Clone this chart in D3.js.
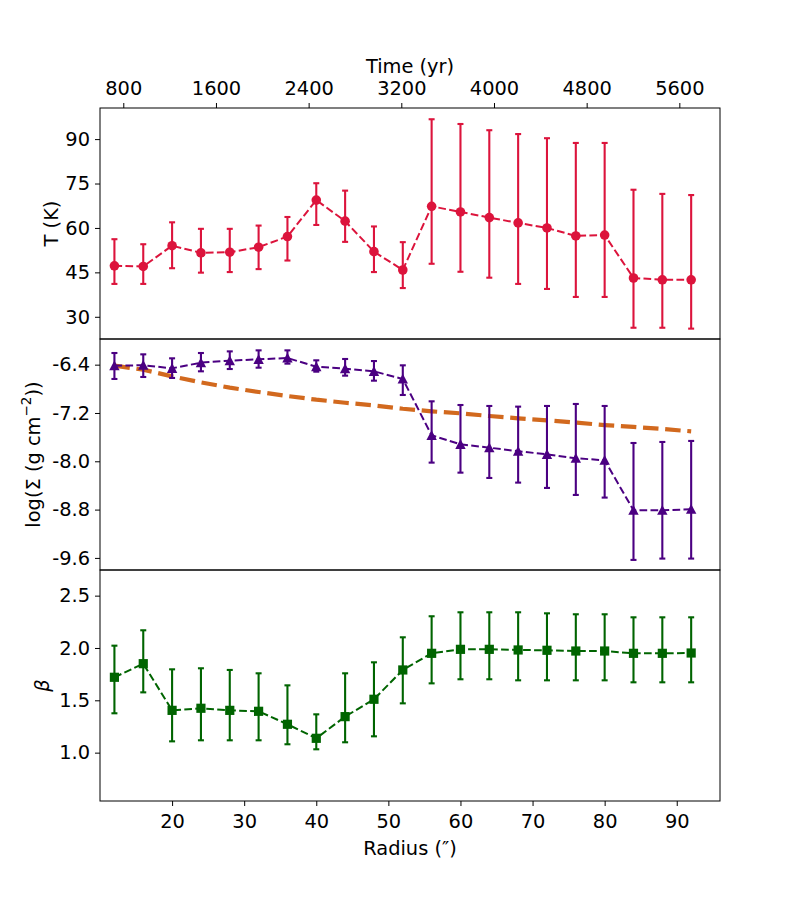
<!DOCTYPE html>
<html>
<head>
<meta charset="utf-8">
<script src="https://cdn.jsdelivr.net/npm/d3@7"></script>
<style>
  body { margin: 0; background: white; }
  text { font-family: "DejaVu Sans", sans-serif; }
</style>
</head>
<body>
<div id="chart"></div>
<script>
// radius of each ring (arcsec)
const radius = [12, 16, 20, 24, 28, 32, 36, 40, 44, 48, 52, 56, 60, 64, 68, 72, 76, 80, 84, 88, 92];

// temperature (K) with error bar ends
const temp   = [47.2, 47.0, 54.0, 51.6, 51.8, 53.5, 57.1, 69.4, 62.3, 52.0, 45.8, 67.3, 65.4, 63.5, 61.7, 60.0, 57.3, 57.6, 43.1, 42.5, 42.5];
const tempHi = [56.2, 54.5, 61.9, 59.7, 59.7, 60.8, 63.7, 75.1, 72.6, 60.5, 55.2, 96.7, 95.1, 93.0, 91.7, 90.3, 88.7, 88.7, 72.9, 71.5, 71.1];
const tempLo = [41.1, 41.1, 46.4, 44.9, 45.1, 46.1, 49.0, 61.0, 55.3, 45.1, 39.7, 47.9, 45.2, 43.2, 41.1, 39.4, 36.7, 36.7, 26.3, 26.3, 26.0];

// log surface density with error bar ends, plus the model curve
const sigma   = [-6.417, -6.41, -6.46, -6.367, -6.334, -6.312, -6.29, -6.433, -6.466, -6.51, -6.637, -7.57, -7.719, -7.774, -7.834, -7.884, -7.95, -7.983, -8.811, -8.811, -8.794];
const sigmaHi = [-6.207, -6.229, -6.295, -6.207, -6.18, -6.163, -6.163, -6.328, -6.306, -6.34, -6.411, -7.007, -7.068, -7.084, -7.095, -7.084, -7.051, -7.084, -7.697, -7.68, -7.663];
const sigmaLo = [-6.637, -6.604, -6.62, -6.51, -6.472, -6.45, -6.383, -6.516, -6.582, -6.665, -6.902, -8.022, -8.188, -8.276, -8.353, -8.441, -8.557, -8.601, -9.633, -9.611, -9.611];
const sigmaModel = [-6.417, -6.483, -6.594, -6.693, -6.78, -6.852, -6.919, -6.98, -7.03, -7.074, -7.13, -7.173, -7.206, -7.25, -7.289, -7.322, -7.36, -7.4, -7.43, -7.465, -7.504];

// dust emissivity index
const beta   = [1.72, 1.85, 1.404, 1.424, 1.404, 1.395, 1.271, 1.137, 1.344, 1.51, 1.79, 1.949, 1.987, 1.987, 1.981, 1.978, 1.971, 1.971, 1.949, 1.949, 1.952];
const betaHi = [2.022, 2.169, 1.796, 1.806, 1.79, 1.758, 1.643, 1.366, 1.758, 1.863, 2.102, 2.303, 2.341, 2.341, 2.341, 2.331, 2.322, 2.322, 2.293, 2.293, 2.293];
const betaLo = [1.376, 1.576, 1.108, 1.118, 1.118, 1.118, 1.08, 1.032, 1.099, 1.156, 1.471, 1.662, 1.701, 1.701, 1.691, 1.691, 1.691, 1.691, 1.672, 1.672, 1.672];

// tick labels
const radiusTicks = [20, 30, 40, 50, 60, 70, 80, 90];
const timeTicks = [800, 1600, 2400, 3200, 4000, 4800, 5600];
const tempTicks = [30, 45, 60, 75, 90];
const sigmaTicks = [-9.6, -8.8, -8.0, -7.2, -6.4];
const betaTicks = [1.0, 1.5, 2.0, 2.5];

const width = 800;
const height = 900;
const margin = { left: 100, right: 80 };
const fontSize = 19.4;
const tickLen = 5;

const svg = d3.select('#chart')
    .append('svg')
    .attr('width', width)
    .attr('height', height)
    .style('background', 'white');

const x = d3.scaleLinear()
    .domain([10, 96])
    .range([margin.left, width - margin.right]);

const xTime = d3.scaleLinear()
    .domain([599, 5951])
    .range([margin.left, width - margin.right]);

const panels = [
    { top: 108, bottom: 339, domain: [22.5, 100.5], ticks: tempTicks, fmt: d3.format('d'),
      val: temp, hi: tempHi, lo: tempLo, color: '#dc143c', marker: 'circle',
      label: ['T (K)'], labelX: 51 },
    { top: 339, bottom: 570, domain: [-9.8, -5.975], ticks: sigmaTicks, fmt: d => d.toFixed(1),
      val: sigma, hi: sigmaHi, lo: sigmaLo, color: '#4b0082', marker: 'triangle',
      label: ['log(Σ (g cm', '−2', '))'], labelX: 33, model: sigmaModel },
    { top: 570, bottom: 801, domain: [0.538, 2.745], ticks: betaTicks, fmt: d3.format('.1f'),
      val: beta, hi: betaHi, lo: betaLo, color: '#006400', marker: 'square',
      label: ['β'], labelX: 42, italic: true }
];

function marker(type) {
    if (type === 'circle') return d3.symbol(d3.symbolCircle, Math.PI * 4.8 * 4.8)();
    if (type === 'square') return 'M-4.6,-4.6H4.6V4.6H-4.6Z';
    return 'M0,-5.2L5.2,4.6H-5.2Z';
}

function styleAxis(sel) {
    sel.select('.domain').remove();
    sel.selectAll('text').attr('font-size', fontSize).attr('fill', 'black')
        .style('font-family', '"DejaVu Sans", sans-serif');
    sel.selectAll('line').attr('stroke', 'black');
}

panels.forEach(p => {
    const y = d3.scaleLinear().domain(p.domain).range([p.bottom, p.top]);
    const g = svg.append('g');

    // y axis ticks
    g.append('g').attr('transform', `translate(${margin.left},0)`)
        .call(d3.axisLeft(y).tickValues(p.ticks).tickFormat(p.fmt).tickSize(tickLen).tickPadding(5))
        .call(styleAxis);

    // model curve
    if (p.model) {
        g.append('path')
            .datum(p.model)
            .attr('fill', 'none')
            .attr('stroke', '#d2691e')
            .attr('stroke-width', 4.2)
            .attr('stroke-dasharray', '15.5,6.7')
            .attr('d', d3.line().x((d, i) => x(radius[i])).y(d => y(d)));
    }

    // error bars
    const eb = g.append('g').attr('stroke', p.color).attr('stroke-width', 2.1);
    eb.selectAll('line.bar').data(radius).join('line')
        .attr('x1', d => x(d)).attr('x2', d => x(d))
        .attr('y1', (d, i) => y(p.lo[i])).attr('y2', (d, i) => y(p.hi[i]));
    eb.selectAll('line.capHi').data(radius).join('line').attr('class', 'capHi')
        .attr('x1', d => x(d) - 3).attr('x2', d => x(d) + 3)
        .attr('y1', (d, i) => y(p.hi[i])).attr('y2', (d, i) => y(p.hi[i]));
    eb.selectAll('line.capLo').data(radius).join('line').attr('class', 'capLo')
        .attr('x1', d => x(d) - 3).attr('x2', d => x(d) + 3)
        .attr('y1', (d, i) => y(p.lo[i])).attr('y2', (d, i) => y(p.lo[i]));

    // dashed connecting line
    g.append('path')
        .datum(p.val)
        .attr('fill', 'none')
        .attr('stroke', p.color)
        .attr('stroke-width', 2)
        .attr('stroke-dasharray', '7.7,3.3')
        .attr('d', d3.line().x((d, i) => x(radius[i])).y(d => y(d)));

    // markers
    g.append('g').selectAll('path').data(p.val).join('path')
        .attr('transform', (d, i) => `translate(${x(radius[i])},${y(d)})`)
        .attr('d', marker(p.marker))
        .attr('fill', p.color);

    // frame
    g.append('rect')
        .attr('x', margin.left).attr('y', p.top)
        .attr('width', width - margin.right - margin.left)
        .attr('height', p.bottom - p.top)
        .attr('fill', 'none').attr('stroke', 'black').attr('stroke-width', 1);

    // y label
    const midY = (p.top + p.bottom) / 2;
    const lab = g.append('text')
        .attr('transform', `translate(${p.labelX},${midY}) rotate(-90)`)
        .attr('text-anchor', 'middle')
        .attr('dominant-baseline', 'central')
        .attr('font-size', fontSize)
        .attr('font-style', p.italic ? 'italic' : null);
    lab.append('tspan').text(p.label[0]);
    if (p.label.length > 1) {
        lab.append('tspan').attr('dy', -7).attr('font-size', fontSize * 0.7).text(p.label[1]);
        lab.append('tspan').attr('dy', 7).text(p.label[2]);
    }
});

// bottom radius axis
svg.append('g').attr('transform', `translate(0,801)`)
    .call(d3.axisBottom(x).tickValues(radiusTicks).tickSize(tickLen).tickPadding(8))
    .call(styleAxis);

svg.append('text')
    .attr('x', (margin.left + width - margin.right) / 2)
    .attr('y', 855)
    .attr('text-anchor', 'middle')
    .attr('font-size', fontSize)
    .text('Radius (″)');

// top time axis
svg.append('g').attr('transform', `translate(0,108)`)
    .call(d3.axisTop(xTime).tickValues(timeTicks).tickFormat(d3.format('d')).tickSize(tickLen).tickPadding(8))
    .call(styleAxis);

svg.append('text')
    .attr('x', (margin.left + width - margin.right) / 2)
    .attr('y', 73)
    .attr('text-anchor', 'middle')
    .attr('font-size', fontSize)
    .text('Time (yr)');
</script>
</body>
</html>
